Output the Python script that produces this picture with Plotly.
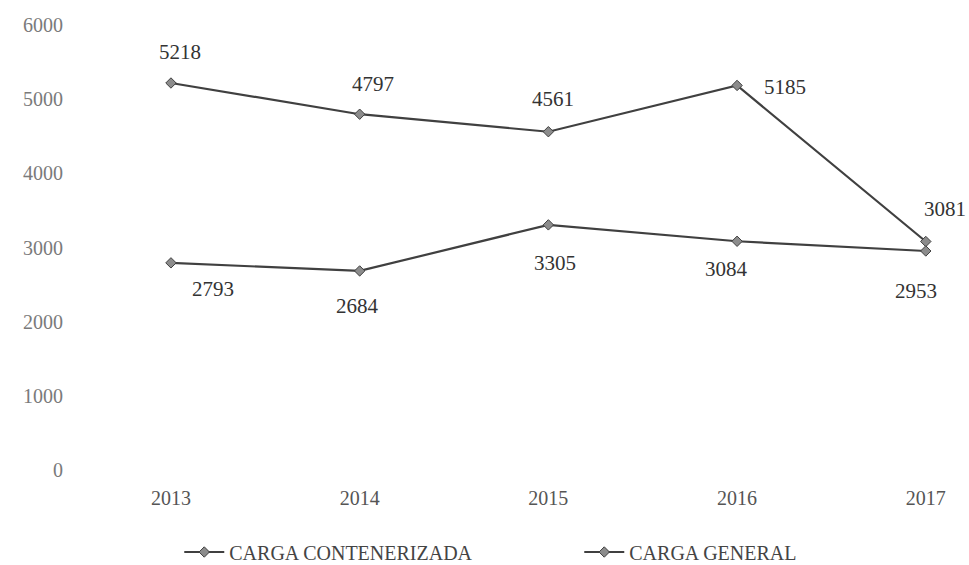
import plotly.graph_objects as go

years = ["2013", "2014", "2015", "2016", "2017"]
contenerizada = [5218, 4797, 4561, 5185, 3081]
general = [2793, 2684, 3305, 3084, 2953]
y_ticks = [0, 1000, 2000, 3000, 4000, 5000, 6000]

# pixel offsets of each value label from its point
offsets_top = [(9, -31), (13, -30), (5, -33), (48, 2), (19, -32)]
offsets_bottom = [(42, 26), (-2, 35), (7, 38), (-11, 28), (-10, 40)]

serif = "Liberation Serif, Times New Roman, serif"

fig = go.Figure()
annotations = []
for name, vals, offs in [("CARGA CONTENERIZADA", contenerizada, offsets_top),
                         ("CARGA GENERAL", general, offsets_bottom)]:
    fig.add_trace(go.Scatter(
        x=years, y=vals, name=name,
        mode="lines+markers",
        line=dict(color="#404040", width=2.2),
        marker=dict(symbol="diamond", size=8, color="#8c8c8c",
                    line=dict(color="#404040", width=1)),
        cliponaxis=False,
    ))
    # category axes place annotations by category index
    for i, (v, (dx, dy)) in enumerate(zip(vals, offs)):
        annotations.append(dict(
            x=i, y=v, xref="x", yref="y", text=str(v), showarrow=False,
            xshift=dx, yshift=-dy, xanchor="center", yanchor="middle",
            font=dict(family=serif, size=21, color="#333333"),
        ))

fig.update_layout(
    width=969, height=565,
    margin=dict(l=70, r=10, t=25, b=95, autoexpand=False),
    paper_bgcolor="white", plot_bgcolor="white",
    font=dict(family=serif, size=20, color="#555"),
    showlegend=True,
    annotations=annotations,
    legend=dict(orientation="h", xref="container", x=0.185, xanchor="left",
                yref="container", y=0.023, yanchor="middle",
                font=dict(family=serif, size=20, color="#444"),
                entrywidth=345, entrywidthmode="pixels",
                itemwidth=40, traceorder="normal"),
    xaxis=dict(type="category", range=[-0.535, 4.176], showgrid=False,
               zeroline=False, showline=False, ticks="",
               ticklabelstandoff=14,
               tickfont=dict(family=serif, size=20, color="#555")),
    yaxis=dict(range=[0, 6000], tickvals=y_ticks, showgrid=False,
               zeroline=False, showline=False, ticks="",
               ticklabelstandoff=6,
               tickfont=dict(family=serif, size=20, color="#7a7a7a")),
)

fig.write_html("out.html")
